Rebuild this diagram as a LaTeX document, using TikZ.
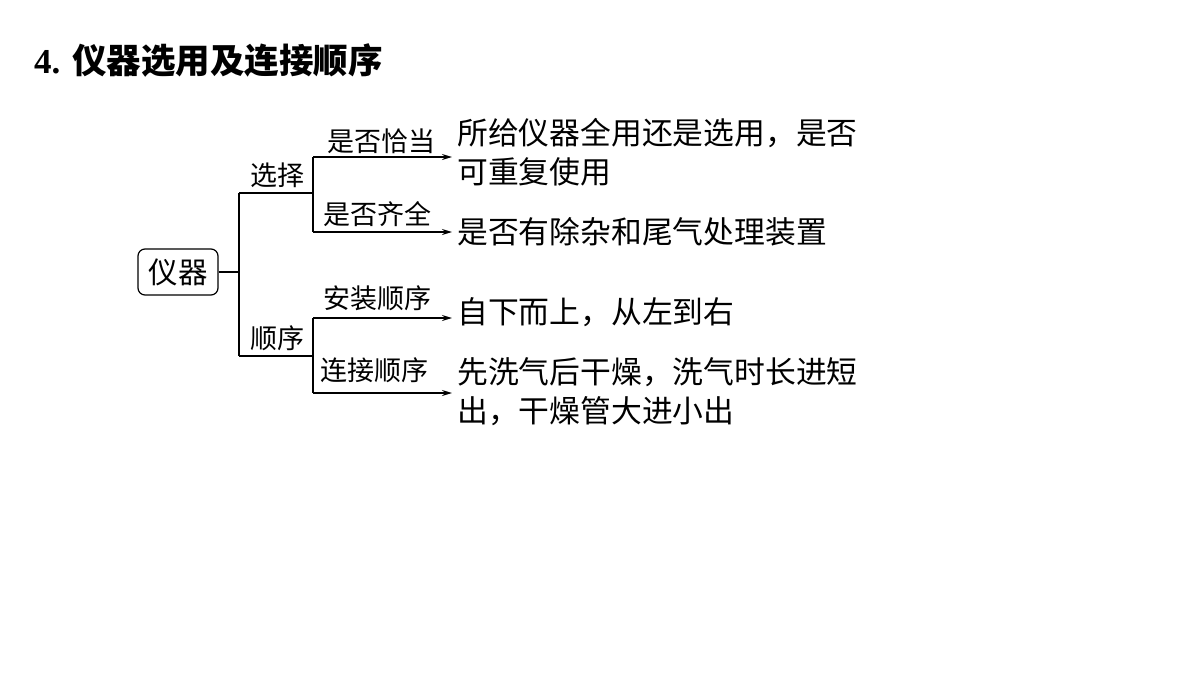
\documentclass[tikz,border=0pt]{standalone}
\usepackage{fontspec}
\setmainfont{Noto Sans CJK SC}
\newfontfamily\numfont{Liberation Serif}
\usetikzlibrary{arrows.meta}
\tikzset{
  conn/.style={line width=1.4pt},
  arr/.style={conn,-{Stealth[length=10pt,width=6pt]}},
  lbl/.style={inner sep=0pt,font=\fontsize{27}{30}\selectfont},
  res/.style={inner sep=0pt,anchor=west,align=left,font=\fontsize{30.8}{39}\selectfont},
  rootbox/.style={draw,line width=1.2pt,rounded corners=7pt,minimum width=80pt,minimum height=46pt,inner sep=0pt,font=\fontsize{29.5}{32}\selectfont}
}
\begin{document}
\begin{tikzpicture}[x=1pt,y=-1pt]
\useasboundingbox (0,0) rectangle (1200,675);
\node[inner sep=0pt,anchor=west] (title) at (34,60) {{\numfont\bfseries\fontsize{35}{38}\selectfont 4.}\hspace{12pt}{\bfseries\fontsize{34.5}{38}\selectfont 仪器选用及连接顺序}};
\node[rootbox] (root) at (178,272) {仪器};
\coordinate (j0) at (239,272);
\coordinate (j0t) at (239,193);
\coordinate (j0b) at (239,356);
\coordinate (j1) at (313,193);
\coordinate (j2) at (313,356);
\coordinate (j1t) at (313,157);
\coordinate (j1b) at (313,232);
\coordinate (j2t) at (313,318);
\coordinate (j2b) at (313,393);
\node[res] (r1) at (457,152) {所给仪器全用还是选用，是否\\可重复使用};
\node[res] (r2) at (457,232) {是否有除杂和尾气处理装置};
\node[res] (r3) at (457,312) {自下而上，从左到右};
\node[res] (r4) at (457,392) {先洗气后干燥，洗气时长进短\\出，干燥管大进小出};
\coordinate (e1) at (452,157);
\coordinate (e2) at (452,232);
\coordinate (e3) at (452,318);
\coordinate (e4) at (452,393);
\draw[conn] (root.east) -- (j0);
\draw[conn] (j0t) -- (j0b);
\draw[conn] (j0t) -- (j1);
\draw[conn] (j0b) -- (j2);
\draw[conn] (j1t) -- (j1b);
\draw[conn] (j2t) -- (j2b);
\draw[arr] (j1t) -- (e1);
\draw[arr] (j1b) -- (e2);
\draw[arr] (j2t) -- (e3);
\draw[arr] (j2b) -- (e4);
\node[lbl] (l0) at (277,175) {选择};
\node[lbl] (l1) at (277,338) {顺序};
\node[lbl] (l2) at (381,141) {是否恰当};
\node[lbl] (l3) at (377,214) {是否齐全};
\node[lbl] (l4) at (377,298) {安装顺序};
\node[lbl] (l5) at (374,370) {连接顺序};
\end{tikzpicture}
\end{document}
